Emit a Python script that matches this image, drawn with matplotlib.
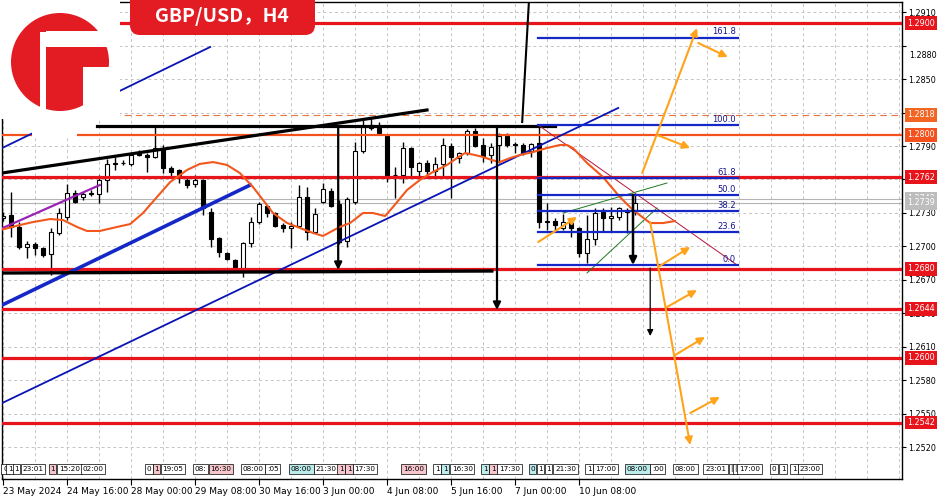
import numpy as np
import matplotlib.pyplot as plt
import matplotlib.transforms as mtransforms
from matplotlib.patches import Circle, Rectangle, FancyBboxPatch

# GBP/USD H4 candles, first bar 23 May 2024 08:00
opens = [1.27254, 1.27281, 1.27174, 1.26994, 1.27021, 1.26985, 1.26931, 1.27120, 1.27263, 1.27478,
         1.27443, 1.27478, 1.27469, 1.27595, 1.27739, 1.27748, 1.27739, 1.27837, 1.27819, 1.27801,
         1.27873, 1.27703, 1.27685, 1.27595, 1.27559, 1.27595, 1.27308, 1.27075, 1.26940, 1.26878,
         1.26806, 1.27030, 1.27218, 1.27362, 1.27299, 1.27191, 1.27165, 1.27183, 1.27443, 1.27129,
         1.27398, 1.27496, 1.27380, 1.27048, 1.27398, 1.27855, 1.28061, 1.28061, 1.27990, 1.27640,
         1.27640, 1.27882, 1.27676, 1.27748, 1.27676, 1.27739, 1.27900, 1.27792, 1.27837, 1.28035,
         1.27909, 1.27819, 1.27909, 1.27990, 1.27918, 1.27909, 1.27855, 1.27927, 1.27218, 1.27227,
         1.27165, 1.27209, 1.27165, 1.26940, 1.27066, 1.27308, 1.27254, 1.27263, 1.27326, 1.27326]
highs = [1.27308, 1.27487, 1.27218, 1.27048, 1.27039, 1.26994, 1.27165, 1.27344, 1.27559, 1.27505,
         1.27487, 1.27505, 1.27640, 1.27783, 1.27801, 1.27774, 1.27837, 1.27864, 1.27837, 1.28070,
         1.27909, 1.27721, 1.27694, 1.27613, 1.27640, 1.27604, 1.27344, 1.27085, 1.26949, 1.26886,
         1.27040, 1.27263, 1.27398, 1.27371, 1.27308, 1.27209, 1.27218, 1.27550, 1.27532, 1.27344,
         1.27568, 1.27523, 1.27416, 1.27443, 1.27936, 1.28133, 1.28160, 1.28115, 1.27999, 1.27712,
         1.27936, 1.27891, 1.27756, 1.27774, 1.27801, 1.27972, 1.27927, 1.27846, 1.28052, 1.28061,
         1.27972, 1.27927, 1.28017, 1.28017, 1.27936, 1.27927, 1.27927, 1.28088, 1.27389, 1.27254,
         1.27290, 1.27218, 1.27170, 1.27281, 1.27347, 1.27344, 1.27353, 1.27353, 1.27344, 1.27461]
lows = [1.27227, 1.27084, 1.26976, 1.26895, 1.26922, 1.26904, 1.26743, 1.27102, 1.27236, 1.27389,
        1.27416, 1.27452, 1.27389, 1.27487, 1.27685, 1.27730, 1.27721, 1.27810, 1.27667, 1.27792,
        1.27658, 1.27622, 1.27568, 1.27523, 1.27532, 1.27281, 1.26994, 1.26904, 1.26878, 1.26770,
        1.26725, 1.26994, 1.27200, 1.27263, 1.27174, 1.27129, 1.26985, 1.27174, 1.27057, 1.27120,
        1.27389, 1.27353, 1.27021, 1.26994, 1.27380, 1.27837, 1.28043, 1.28010, 1.27577, 1.27434,
        1.27568, 1.27622, 1.27622, 1.27622, 1.27622, 1.27622, 1.27434, 1.27748, 1.27819, 1.27891,
        1.27756, 1.27748, 1.27748, 1.27891, 1.27837, 1.27819, 1.27801, 1.27165, 1.27147, 1.27129,
        1.27147, 1.27084, 1.26904, 1.26851, 1.27012, 1.27129, 1.27129, 1.27236, 1.27120, 1.27281]
closes = [1.27272, 1.27174, 1.26994, 1.27021, 1.26985, 1.26922, 1.27129, 1.27299, 1.27478, 1.27398,
          1.27469, 1.27474, 1.27595, 1.27739, 1.27748, 1.27750, 1.27819, 1.27819, 1.27801, 1.27882,
          1.27703, 1.27667, 1.27640, 1.27550, 1.27595, 1.27344, 1.27066, 1.26949, 1.26886, 1.26815,
          1.27030, 1.27218, 1.27380, 1.27299, 1.27183, 1.27165, 1.27183, 1.27443, 1.27129, 1.27290,
          1.27514, 1.27362, 1.27039, 1.27425, 1.27855, 1.28070, 1.28088, 1.28017, 1.27640, 1.27644,
          1.27882, 1.27712, 1.27748, 1.27676, 1.27739, 1.27909, 1.27801, 1.27837, 1.28035, 1.27900,
          1.27810, 1.27891, 1.27990, 1.27909, 1.27913, 1.27837, 1.27918, 1.27218, 1.27227, 1.27191,
          1.27218, 1.27165, 1.26940, 1.27066, 1.27299, 1.27254, 1.27272, 1.27344, 1.27308, 1.27389]

# moving average (orange)
ma_x = [0, 2.1, 3.75, 5.9, 7.5, 9.25, 10.5, 12.1, 14.25, 15.9, 17.5, 19.25, 20.9, 23, 24.6, 26.25,
        28, 29.6, 31.25, 32.5, 33.75, 35.5, 37.1, 38.75, 40, 42.1, 43.4, 45, 46.25, 47.75, 48.75,
        50.5, 52.1, 53.75, 55.5, 56.75, 57.75, 59, 60, 61.1, 62.1, 63.4, 64.6, 66.25, 68, 69.6,
        70.5, 71.25, 73, 75, 77.1, 78.75, 80.9, 82.5, 84]
ma_y = [1.27153, 1.27191, 1.27218, 1.27245, 1.27236, 1.27174, 1.27138, 1.27138, 1.27174, 1.27200,
        1.27299, 1.27443, 1.27577, 1.27685, 1.27739, 1.27756, 1.27730, 1.27658, 1.27532, 1.27416,
        1.27299, 1.27210, 1.27165, 1.27120, 1.27093, 1.27174, 1.27210, 1.27299, 1.27299, 1.27272,
        1.27353, 1.27505, 1.27595, 1.27667, 1.27730, 1.27792, 1.27837, 1.27819, 1.27801, 1.27774,
        1.27756, 1.27792, 1.27819, 1.27846, 1.27882, 1.27909, 1.27909, 1.27882, 1.27748, 1.27622,
        1.27443, 1.27326, 1.27209, 1.27209, 1.27227]

# horizontal levels
red_levels = [1.2900, 1.2762, 1.2680, 1.2644, 1.2600, 1.2542]
orange_level = 1.2800
orange_dash_level = 1.2818
bid_ask = [1.27425, 1.27389]

# trend lines (bar index, price)
blue_thin_x, blue_thin_y = [-0.1, 76.9], [1.25595, 1.28241]
blue_thick_x, blue_thick_y = [-0.1, 30.9], [1.26474, 1.27550]
blue_top_x, blue_top_y = [-0.1, 25.9], [1.27882, 1.28788]
purple_x, purple_y = [-0.4, 12.1], [1.27153, 1.27550]
wedge_x, wedge_y = [-0.1, 53.0], [1.27658, 1.28223]
res_x, res_y = [11.75, 69.0], [1.28080, 1.28080]
sup_x, sup_y = [-0.1, 61.1], [1.26761, 1.26779]
spike_x, spike_y = [64.9, 65.75], [1.28115, 1.29210]
diag_x, diag_y = [66.9, 91.75], [1.28088, 1.26833]
green1_x, green1_y = [70.0, 83.0], [1.27299, 1.27568]
green2_x, green2_y = [73.0, 81.75], [1.26761, 1.27344]

# fibonacci retracement
fib_x = [66.9, 91.9]
fib_labels = ['161.8', '100.0', '61.8', '50.0', '38.2', '23.6', '0.0']
fib_prices = [1.28873, 1.28088, 1.27613, 1.27461, 1.27317, 1.27129, 1.26833]

# arrows (x0, y0, x1, y1)
orange_arrows = [(66.9, 1.27039, 71.75, 1.27263),
                 (79.9, 1.27658, 86.75, 1.28958),
                 (86.9, 1.28824, 90.6, 1.28698),
                 (81.75, 1.27999, 85.9, 1.27882),
                 (80.9, 1.27218, 85.9, 1.25218),
                 (81.9, 1.26815, 85.9, 1.26994),
                 (83.0, 1.26456, 86.75, 1.26608),
                 (84.0, 1.26025, 87.75, 1.26187),
                 (85.9, 1.25505, 89.6, 1.25649)]
black_arrows = [(41.9, 1.28080, 41.9, 1.26788, 1.6),
                (61.75, 1.28080, 61.75, 1.26429, 1.6),
                (78.75, 1.27461, 78.75, 1.26833, 1.8),
                (80.9, 1.26806, 80.9, 1.26196, 0.9)]

# price scale
price_ticks = [1.2910, 1.2880, 1.2850, 1.2820, 1.2790, 1.2760, 1.2730, 1.2700,
               1.2670, 1.2640, 1.2610, 1.2580, 1.2550, 1.2520]
price_tick_labels = ['1.2910', '', '1.2850', '', '1.2790', '', '1.2730', '1.2700',
                     '1.2670', '1.2640', '1.2610', '1.2580', '1.2550', '1.2520']
price_boxes = [(1.2900, '1.2900', '#E8141B'), (1.2818, '1.2818', '#F26522'),
               (1.2800, '1.2800', '#F4511E'), (1.2762, '1.2762', '#E8141B'),
               (1.27425, '1.2742', '#BDBDBD'), (1.27389, '1.2739', '#BDBDBD'),
               (1.2680, '1.2680', '#E8141B'), (1.2644, '1.2644', '#E8141B'),
               (1.2600, '1.2600', '#E8141B'), (1.2542, '1.2542', '#E8141B')]

# time scale
date_ticks = [0, 8, 16, 24, 32, 40, 48, 56, 64, 72]
date_labels = ['23 May 2024', '24 May 16:00', '28 May 00:00', '29 May 08:00', '30 May 16:00',
               '3 Jun 00:00', '4 Jun 08:00', '5 Jun 16:00', '7 Jun 00:00', '10 Jun 08:00']

# news markers along the bottom
event_x = [0, 0.6, 1.4, 2.4, 5.9, 7.0, 9.9, 18.0, 18.9, 19.9, 24.0, 25.9, 29.9, 33.0,
           36.0, 39.1, 42.0, 43.0, 43.9, 50.0, 54.0, 55.0, 56.1, 60.0, 61.0, 62.0,
           65.9, 66.9, 67.9, 69.0, 73.0, 74.0, 78.0, 81.1, 84.0, 87.75, 90.9, 91.4,
           92.0, 96.1, 97.25, 98.6, 99.6]
event_text = ['0', '1', '1', '23:01', '1', '15:20', '02:00', '0', '1', '19:05', '08:', '16:30',
              '08:00', ':05', '08:00', '21:30', '1', '1', '17:30', '16:00', '1', '1', '16:30',
              '1', '1', '17:30', '0', '1', '1', '21:30', '1', '17:00', '08:00', ':00', '08:00',
              '23:01', '|', '|', '17:00', '0', '1', '1', '23:00']
event_kind = ['w', 'w', 'w', 'w', 'p', 'w', 'w', 'w', 'p', 'w', 'w', 'p',
              'w', 'w', 'c', 'w', 'p', 'p', 'w', 'p', 'w', 'c', 'w',
              'c', 'p', 'w', 'c', 'w', 'w', 'w', 'w', 'w', 'c', 'w', 'w',
              'w', 'w', 'w', 'w', 'w', 'w', 'w', 'w']
kind_color = {'w': 'white', 'p': '#F6C6CC', 'c': '#BDEBEB'}

fig = plt.figure(figsize=(9.5, 5), dpi=100)
fig.patch.set_facecolor('white')
ax = fig.add_axes([2 / 950, 21 / 500, 900 / 950, 477 / 500])
ax.set_xlim(-0.125, 112.375)
ax.set_ylim(1.249135, 1.291915)

# grid
for gx in range(0, 113, 4):
    ax.axvline(gx, color='#C4C4C4', lw=0.7, ls=(0, (3, 3)), zorder=0)
for gy in price_ticks:
    ax.axhline(gy, color='#C4C4C4', lw=0.7, ls=(0, (3, 3)), zorder=0)

# candles
o = np.array(opens)
c = np.array(closes)
x = np.arange(len(o))
up = c >= o
bottom = np.minimum(o, c)
height = np.maximum(np.abs(c - o), 0.00002)
ax.vlines(x, lows, highs, color='black', lw=1.0, zorder=2)
ax.bar(x, height, bottom=bottom, width=0.62, color=np.where(up, 'white', 'black'),
       edgecolor='black', linewidth=0.8, zorder=2.1)

# levels
for lv in red_levels:
    ax.axhline(lv, color='#E8141B', lw=2.3, zorder=3)
ax.axhline(orange_level, color='#F4511E', lw=1.6, zorder=3)
ax.axhline(orange_dash_level, color='#E8743B', lw=0.8, ls=(0, (6, 4)), zorder=3)
for lv in bid_ask:
    ax.axhline(lv, color='#B4B4B4', lw=0.8, zorder=1.5)

# trend lines
ax.plot(blue_thin_x, blue_thin_y, color='#0A14B4', lw=1.3, zorder=3.2)
ax.plot(blue_thick_x, blue_thick_y, color='#1428C8', lw=2.6, zorder=3.2)
ax.plot(blue_top_x, blue_top_y, color='#0A14B4', lw=1.3, zorder=3.2)
ax.plot(purple_x, purple_y, color='#9A22B4', lw=1.6, zorder=3.2)
ax.plot(wedge_x, wedge_y, color='black', lw=2.3, zorder=3.3)
ax.plot(res_x, res_y, color='black', lw=2.3, zorder=3.3)
ax.plot(sup_x, sup_y, color='black', lw=2.4, zorder=3.3)
ax.plot(spike_x, spike_y, color='black', lw=1.5, zorder=3.3)
ax.plot(diag_x, diag_y, color='#B4143C', lw=0.7, zorder=3.4)
ax.plot(green1_x, green1_y, color='#1E7A1E', lw=0.7, zorder=3.4)
ax.plot(green2_x, green2_y, color='#1E7A1E', lw=0.7, zorder=3.4)

# moving average
ax.plot(ma_x, ma_y, color='#F2581E', lw=1.5, zorder=3.5)

# fibonacci
for lab, pr in zip(fib_labels, fib_prices):
    ax.plot(fib_x, [pr, pr], color='#1428C8', lw=1.6, zorder=3.6)
    ax.text(fib_x[1] - 0.3, pr + 0.00012, lab, color='#14148C', fontsize=6,
            ha='right', va='bottom', zorder=3.6)

# arrows
for x0, y0, x1, y1 in orange_arrows:
    ax.annotate('', xy=(x1, y1), xytext=(x0, y0), zorder=4,
                arrowprops=dict(arrowstyle='-|>', color='#FFA31A', lw=1.5,
                                mutation_scale=11, shrinkA=0, shrinkB=0))
for x0, y0, x1, y1, w in black_arrows:
    ax.annotate('', xy=(x1, y1), xytext=(x0, y0), zorder=4,
                arrowprops=dict(arrowstyle='-|>', color='black', lw=w,
                                mutation_scale=11 if w > 1 else 9, shrinkA=0, shrinkB=0))

# axes styling
for s in ax.spines.values():
    s.set_color('black')
    s.set_linewidth(1.0)
ax.yaxis.tick_right()
ax.set_yticks(price_ticks, price_tick_labels)
ax.tick_params(axis='y', direction='out', length=3, width=0.8, pad=1.5, labelsize=5.8)
ax.set_xticks(date_ticks, date_labels)
ax.tick_params(axis='x', direction='out', length=4, width=0.8, pad=1.5, labelsize=6.5)
for lbl in ax.get_xticklabels():
    lbl.set_horizontalalignment('left')

trans = mtransforms.blended_transform_factory(ax.transAxes, ax.transData)
ax.text(1.0 + 7 / 900, 1.28716, '1.2880', transform=trans, fontsize=5.8,
        va='center', ha='left', clip_on=False)
for pr, txt, col in price_boxes:
    ax.text(1.0 + 5 / 900, pr, txt, transform=trans, fontsize=5.8, color='white',
            va='center', ha='left', clip_on=False, zorder=10,
            bbox=dict(boxstyle='square,pad=0.3', fc=col, ec='none'))

# event boxes
for ex, et, ek in zip(event_x, event_text, event_kind):
    ax.text(ex, 0.021, et, transform=ax.get_xaxis_transform(), fontsize=5.2,
            ha='left', va='center', zorder=6,
            bbox=dict(boxstyle='square,pad=0.22', fc=kind_color[ek], ec='black', lw=0.5))

# logo and title overlay (pixel space)
ov = fig.add_axes([0, 0, 1, 1])
ov.set_xlim(0, 950)
ov.set_ylim(500, 0)
ov.axis('off')
ov.patch.set_alpha(0)
ov.add_patch(Rectangle((0, 0), 120, 119, fc='white', ec='none'))
ov.add_patch(Rectangle((32, 118), 45, 19, fc='white', ec='none'))
ov.add_patch(Circle((60, 62), 49, fc='#E31B23', ec='none'))
ov.add_patch(Rectangle((40, 32), 6, 82, fc='white', ec='none'))
ov.add_patch(Rectangle((46, 31), 70, 16, fc='white', ec='none'))
ov.add_patch(Rectangle((83, 67), 32, 48, fc='white', ec='none'))
ov.add_patch(FancyBboxPatch((130, -12), 185, 47, boxstyle='round,pad=0,rounding_size=10',
                            fc='#E31B23', ec='none'))
ov.text(222, 16, 'GBP/USD，H4', color='white', fontsize=14, fontweight='bold',
        family=['Noto Sans CJK SC', 'DejaVu Sans'], ha='center', va='center')

fig.savefig('out.png', dpi=100)
